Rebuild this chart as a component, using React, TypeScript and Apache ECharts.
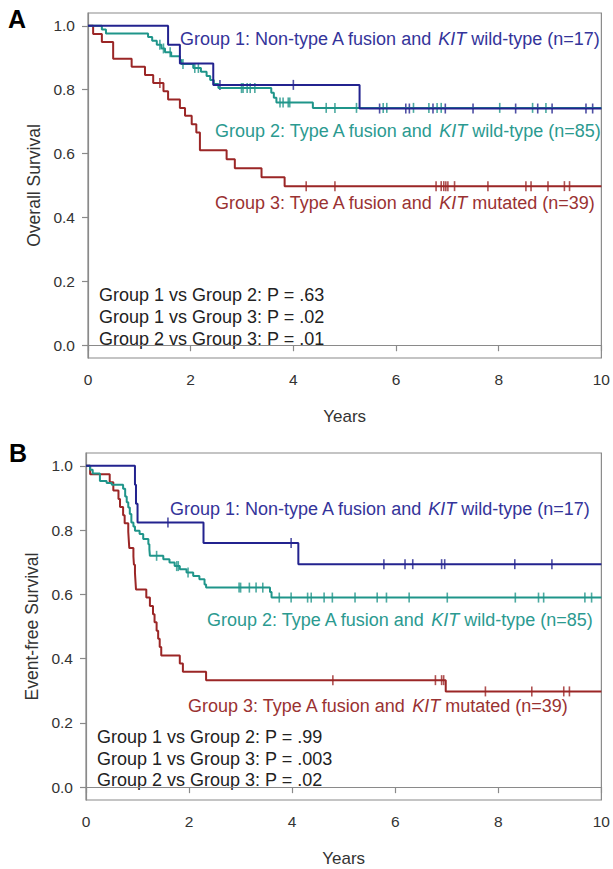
import React, { useEffect, useRef } from "react";
import * as echarts from "echarts";

// ---------- Tick labels ----------
const yTicks = [0, 0.2, 0.4, 0.6, 0.8, 1.0];

// ---------- Panel A: Overall survival ----------
const osG1Times = [1.56, 1.79, 2.44, 5.29];
const osG1Surv = [0.941, 0.882, 0.815, 0.741];
const osG1Censor = [2.57, 4.0, 5.68, 6.19, 6.26, 6.72, 6.96, 7.5, 8.33, 8.76, 9.04, 9.7, 9.83];

const osG2Times = [0.27, 0.35, 1.17, 1.25, 1.34, 1.43, 1.5, 1.62, 1.79, 1.82, 2.05, 2.2, 2.31, 2.38, 2.45, 2.54, 3.57, 3.62, 3.67, 4.38];
const osG2Surv = [0.988, 0.976, 0.965, 0.953, 0.941, 0.929, 0.917, 0.905, 0.893, 0.88, 0.868, 0.856, 0.843, 0.83, 0.818, 0.805, 0.79, 0.775, 0.76, 0.743];
const osG2Censor = [1.4, 1.47, 1.6, 1.85, 2.08, 2.15, 2.99, 3.02, 3.1, 3.16, 3.25, 3.74, 3.8, 3.9, 3.93, 4.64, 4.81, 5.23, 5.75, 5.82, 6.34, 6.64, 6.8, 6.88, 8.02, 8.66, 8.92];

const osG3Times = [0.1, 0.27, 0.49, 0.85, 1.11, 1.27, 1.47, 1.56, 1.79, 1.89, 2.02, 2.11, 2.18, 2.7, 2.86, 3.38, 3.83];
const osG3Surv = [0.974, 0.949, 0.897, 0.872, 0.846, 0.821, 0.795, 0.769, 0.743, 0.718, 0.692, 0.666, 0.61, 0.582, 0.554, 0.526, 0.498];
const osG3Censor = [1.4, 4.25, 4.81, 6.78, 6.88, 6.93, 6.97, 7.01, 7.14, 7.79, 8.53, 8.63, 8.96, 9.28, 9.38];

// ---------- Panel B: Event-free survival ----------
const efsG1Times = [0.95, 0.97, 1.0, 2.28, 4.12];
const efsG1Surv = [0.941, 0.882, 0.824, 0.76, 0.694];
const efsG1Censor = [1.59, 3.98, 5.78, 6.19, 6.34, 6.9, 6.96, 8.32, 9.04];

const efsG2Times = [0.08, 0.13, 0.27, 0.4, 0.5, 0.72, 0.76, 0.79, 0.82, 0.85, 0.88, 0.92, 0.95, 1.04, 1.11, 1.21, 1.23, 1.24, 1.5, 1.62, 1.72, 1.82, 1.95, 2.08, 2.2, 2.3, 2.33, 3.57, 3.6];
const efsG2Surv = [0.988, 0.976, 0.953, 0.947, 0.941, 0.929, 0.905, 0.887, 0.87, 0.85, 0.824, 0.811, 0.798, 0.788, 0.772, 0.756, 0.74, 0.72, 0.709, 0.699, 0.688, 0.678, 0.668, 0.657, 0.647, 0.631, 0.621, 0.607, 0.59];
const efsG2Censor = [1.37, 1.76, 1.79, 1.98, 2.97, 3.0, 3.17, 3.3, 3.43, 3.75, 3.98, 4.3, 4.37, 4.62, 4.78, 5.22, 5.65, 5.83, 6.27, 7.01, 8.33, 8.78, 8.88, 9.68, 9.81];

const efsG3Times = [0.08, 0.46, 0.53, 0.63, 0.66, 0.72, 0.75, 0.82, 0.83, 0.84, 0.92, 0.93, 0.95, 0.96, 0.97, 1.17, 1.24, 1.3, 1.33, 1.37, 1.4, 1.43, 1.46, 1.82, 1.88, 2.33, 6.98];
const efsG3Surv = [0.974, 0.949, 0.923, 0.897, 0.872, 0.846, 0.821, 0.795, 0.769, 0.744, 0.718, 0.692, 0.667, 0.641, 0.615, 0.59, 0.564, 0.538, 0.513, 0.487, 0.462, 0.436, 0.41, 0.385, 0.359, 0.333, 0.298];
const efsG3Censor = [4.79, 6.78, 6.9, 6.94, 7.75, 8.65, 9.27, 9.38];

// ---------- Text ----------
const pTextA = ["Group 1 vs Group 2: P = .63", "Group 1 vs Group 3: P = .02", "Group 2 vs Group 3: P = .01"];
const pTextB = ["Group 1 vs Group 2: P = .99", "Group 1 vs Group 3: P = .003", "Group 2 vs Group 3: P = .02"];

const BLUE = "#23238f";
const TEAL = "#1f958a";
const RED = "#9b2626";
const BLUE_T = "#34349a";
const TEAL_T = "#2b9a90";
const RED_T = "#9a3232";
const FONT = "Arial, Liberation Sans, Helvetica, sans-serif";
const LABEL_SIZE = 18;

function stepData(times: number[], surv: number[]) {
  const d: number[][] = [[0, 1]];
  times.forEach((t, i) => d.push([t, surv[i]]));
  d.push([10, surv[surv.length - 1]]);
  return d;
}
function kmAt(times: number[], surv: number[], t: number) {
  let v = 1;
  for (let i = 0; i < times.length; i++) if (times[i] <= t) v = surv[i];
  return v;
}
function censorData(times: number[], surv: number[], cens: number[]) {
  return cens.map((c) => [c, kmAt(times, surv, c)]);
}

function richText(x: number, y: number, text: string, color: string, size = LABEL_SIZE, weight = "normal") {
  return {
    type: "text",
    x,
    y,
    silent: true,
    style: {
      text,
      fill: color,
      fontFamily: FONT,
      fontSize: size,
      fontWeight: weight,
      verticalAlign: "middle",
      rich: {
        n: { fontFamily: FONT, fontSize: size, fontWeight: weight, fill: color },
        i: { fontFamily: FONT, fontSize: size, fontStyle: "italic", fill: color },
      },
    },
  };
}
function groupLabel(x: number, y: number, pre: string, post: string, color: string) {
  return richText(x, y, `{n|${pre}}{i|KIT}{n|${post}}`, color);
}
function plainText(x: number, y: number, text: string, size = LABEL_SIZE, weight = "normal", color = "#222") {
  return richText(x, y, `{n|${text}}`, color, size, weight);
}

export default function App() {
  const ref = useRef<HTMLDivElement>(null);
  useEffect(() => {
    if (!ref.current) return;
    const chart = echarts.init(ref.current, null, { renderer: "svg" });

    const mkX = (gridIndex: number) => ({
      type: "value",
      gridIndex,
      min: 0,
      max: 10,
      interval: 2,
      name: "Years",
      nameLocation: "middle",
      nameGap: 50,
      nameTextStyle: { fontFamily: FONT, fontSize: 17, color: "#333" },
      axisLine: { show: true, lineStyle: { color: "#8a8a8a", width: 1.2 } },
      axisTick: { show: true, length: 6, lineStyle: { color: "#8a8a8a", width: 1.2 } },
      axisLabel: { fontFamily: FONT, fontSize: 15.5, color: "#333", margin: 13 },
      splitLine: { show: false },
    });
    const mkY = (gridIndex: number, name: string) => ({
      type: "value",
      gridIndex,
      min: -0.04,
      max: 1.04,
      name,
      nameLocation: "middle",
      nameGap: 43,
      nameTextStyle: { fontFamily: FONT, fontSize: 17.5, color: "#333" },
      axisLine: { show: true, lineStyle: { color: "#8a8a8a", width: 1.2 } },
      axisTick: { show: true, length: 6, customValues: yTicks, lineStyle: { color: "#8a8a8a", width: 1.2 } },
      axisLabel: {
        fontFamily: FONT,
        fontSize: 15.5,
        color: "#333",
        margin: 13,
        customValues: yTicks,
        formatter: (v: number) => v.toFixed(1),
      },
      splitLine: { show: false },
    });

    const lineSeries = (xi: number, data: number[][], color: string) => ({
      type: "line",
      xAxisIndex: xi,
      yAxisIndex: xi,
      step: "end",
      data,
      showSymbol: false,
      symbol: "none",
      lineStyle: { color, width: 2 },
      silent: true,
    });
    const censorSeries = (xi: number, data: number[][], color: string) => ({
      type: "scatter",
      xAxisIndex: xi,
      yAxisIndex: xi,
      data,
      symbol: "rect",
      symbolSize: [1.6, 10],
      itemStyle: { color },
      silent: true,
    });

    chart.setOption({
      animation: false,
      backgroundColor: "#ffffff",
      grid: [
        { left: 88, top: 13, width: 515, height: 345, show: true, borderColor: "#8a8a8a", borderWidth: 1.2, containLabel: false },
        { left: 86, top: 453, width: 517, height: 347, show: true, borderColor: "#8a8a8a", borderWidth: 1.2, containLabel: false },
      ],
      xAxis: [mkX(0), mkX(1)],
      yAxis: [mkY(0, "Overall Survival"), mkY(1, "Event-free Survival")],
      series: [
        lineSeries(0, stepData(osG3Times, osG3Surv), RED),
        censorSeries(0, censorData(osG3Times, osG3Surv, osG3Censor), RED),
        lineSeries(0, stepData(osG2Times, osG2Surv), TEAL),
        censorSeries(0, censorData(osG2Times, osG2Surv, osG2Censor), TEAL),
        lineSeries(0, stepData(osG1Times, osG1Surv), BLUE),
        censorSeries(0, censorData(osG1Times, osG1Surv, osG1Censor), BLUE),
        lineSeries(1, stepData(efsG3Times, efsG3Surv), RED),
        censorSeries(1, censorData(efsG3Times, efsG3Surv, efsG3Censor), RED),
        lineSeries(1, stepData(efsG2Times, efsG2Surv), TEAL),
        censorSeries(1, censorData(efsG2Times, efsG2Surv, efsG2Censor), TEAL),
        lineSeries(1, stepData(efsG1Times, efsG1Surv), BLUE),
        censorSeries(1, censorData(efsG1Times, efsG1Surv, efsG1Censor), BLUE),
      ],
      graphic: [
        plainText(8, 19, "A", 25, "bold", "#000"),
        plainText(9, 453, "B", 25, "bold", "#000"),
        groupLabel(180, 39, "Group 1: Non-type A fusion and ", " wild-type (n=17)", BLUE_T),
        groupLabel(215, 131, "Group 2: Type A fusion and ", " wild-type (n=85)", TEAL_T),
        groupLabel(215, 203, "Group 3: Type A fusion and ", " mutated (n=39)", RED_T),
        ...pTextA.map((t, i) => plainText(99, 295 + i * 22, t)),
        groupLabel(170, 509, "Group 1: Non-type A fusion and ", " wild-type (n=17)", BLUE_T),
        groupLabel(207, 620, "Group 2: Type A fusion and ", " wild-type (n=85)", TEAL_T),
        groupLabel(188, 706, "Group 3: Type A fusion and ", " mutated (n=39)", RED_T),
        ...pTextB.map((t, i) => plainText(97, 737 + i * 21.5, t)),
      ],
    });
    return () => chart.dispose();
  }, []);
  return <div ref={ref} style={{ position: "fixed", left: 0, top: 0, width: 613, height: 869, background: "#fff" }} />;
}
